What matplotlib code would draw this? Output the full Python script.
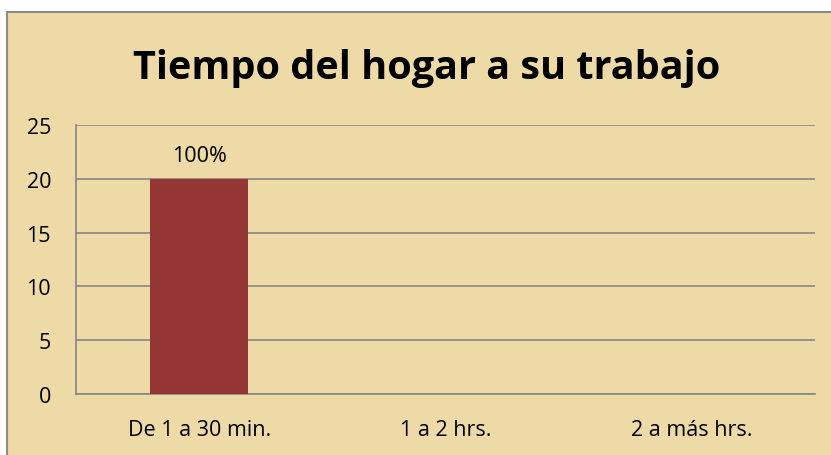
import matplotlib.pyplot as plt
from matplotlib.patches import Rectangle

categorias = ["De 1 a 30 min.", "1 a 2 hrs.", "2 a más hrs."]
valores = [20, 0, 0]
etiquetas = ["100%", "", ""]

plt.rcParams['font.family'] = ['Open Sans', 'DejaVu Sans']

fig = plt.figure(figsize=(8.31, 4.56), dpi=100)
fig.patch.set_facecolor("white")

# fondo tipo papiro con borde gris
fondo = Rectangle((7 / 831, -0.05), 1.0, (456 - 13) / 456 + 0.05,
                  transform=fig.transFigure, facecolor="#EDDAA6",
                  edgecolor="#8C8C8C", linewidth=1.5, zorder=-10)
fig.add_artist(fondo)

ax = fig.add_axes([76 / 831, 61 / 456, (815 - 76) / 831, (395 - 126) / 456])
ax.set_facecolor("none")
ax.set_zorder(5)

x = list(range(len(categorias)))
barras = ax.bar(x, valores, width=0.4, color="#943634", zorder=3)
for b, txt in zip(barras, etiquetas):
    if txt:
        ax.text(b.get_x() + b.get_width() / 2, b.get_height() + 1.2, txt,
                ha="center", va="bottom", fontsize=15.5, color="black")

ax.set_xlim(-0.5, 2.5)
ax.set_ylim(0, 25)
ax.set_yticks([0, 5, 10, 15, 20, 25])
ax.set_xticks(x)
ax.set_xticklabels(categorias, fontsize=15.5)
ax.tick_params(axis="y", labelsize=15.5, length=0, pad=18)
ax.tick_params(axis="x", length=0, pad=18)
ax.grid(axis="y", color="#868686", linewidth=1.2, zorder=1)
for lado in ["top", "right"]:
    ax.spines[lado].set_visible(False)
ax.spines["left"].set_color("#868686")
ax.spines["bottom"].set_color("#868686")
ax.spines["left"].set_linewidth(1.2)
ax.spines["bottom"].set_linewidth(1.2)

fig.text(427 / 831, 1 - 69 / 456, "Tiempo del hogar a su trabajo",
         ha="center", va="center", fontsize=28.5, fontweight="bold", zorder=6)

fig.savefig("out.png", dpi=100)
